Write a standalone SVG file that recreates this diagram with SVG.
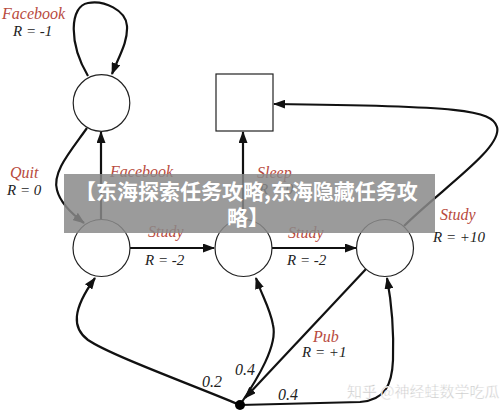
<svg xmlns="http://www.w3.org/2000/svg" width="500" height="412" viewBox="0 0 500 412">
<defs>
<style>
.st{fill:#fff;stroke:#222;stroke-width:1.2}
.c{fill:none;stroke:#111;stroke-width:2.2}
.lr{font-family:"Liberation Serif",serif;font-style:italic;font-size:16px;fill:#b84a3d}
.lb{font-family:"Liberation Serif",serif;font-style:italic;font-size:15px;fill:#222}
.p{font-family:"Liberation Serif",serif;font-style:italic;font-size:16px;fill:#222}
.bn{font-family:"Noto Sans CJK SC",sans-serif;font-weight:bold;font-size:21px;fill:#fff}
.wm{font-family:"Noto Sans CJK SC",sans-serif;font-size:15px;fill:#c8c8c8;stroke:#fff;stroke-width:0.4}
</style>
<marker id="ah" viewBox="0 0 12 9" refX="11" refY="4.5" markerWidth="12" markerHeight="9" markerUnits="userSpaceOnUse" orient="auto">
<path d="M0,0 L12,4.5 L0,9 z" fill="#111"/>
</marker>
</defs>
<g id="connectors">
<path class="c" d="M88,76 C68,42 70,6 88,3 C104,0 126,10 127,26 C128,42 119,56 112,74" marker-end="url(#ah)"/>
<path class="c" d="M101,219 L101,132" marker-end="url(#ah)"/>
<path class="c" d="M87,128 C70,152 52,172 57,190 C60,202 72,214 84,223" marker-end="url(#ah)"/>
<path class="c" d="M130,248 L214,248" marker-end="url(#ah)"/>
<path class="c" d="M272,248 L356,248" marker-end="url(#ah)"/>
<path class="c" d="M243,219 L243,132" marker-end="url(#ah)"/>
<path class="c" d="M404,226 C440,190 503,148 497,127 C492,110 460,106 274,104" marker-end="url(#ah)"/>
<path class="c" d="M366,269 L245,398" marker-end="url(#ah)"/>
<path class="c" d="M240,405 C190,384 110,355 88,340 C72,328 72,310 95,278" marker-end="url(#ah)"/>
<path class="c" d="M240,405 C258,378 278,345 273,325 C270,308 262,296 256,278" marker-end="url(#ah)"/>
<path class="c" d="M240,405 L360,402 C385,400 392,385 393,360 C394,330 392,305 387,278" marker-end="url(#ah)"/>
</g>
<g id="s_facebook"><circle class="st" cx="101.5" cy="103" r="28.3"/></g>
<g id="s_sleep"><rect class="st" x="216" y="74" width="57" height="57"/></g>
<g id="s_class1"><circle class="st" cx="101.5" cy="248" r="28.5"/></g>
<g id="s_class2"><circle class="st" cx="243.5" cy="248" r="28.5"/></g>
<g id="s_class3"><circle class="st" cx="385" cy="248" r="28.5"/></g>
<g id="s_chance"><circle cx="240" cy="405" r="5" fill="#000"/></g>
<g id="labels">
<text class="lr" x="2" y="19">Facebook</text>
<text class="lb" x="13" y="36">R = -1</text>
<text class="lr" x="10" y="178">Quit</text>
<text class="lb" x="7" y="195">R = 0</text>
<text class="lr" x="110" y="177">Facebook</text>
<text class="lr" x="257" y="178">Sleep</text>
<text class="lb" x="259" y="194">R = 0</text>
<text class="lr" x="148" y="237">Study</text>
<text class="lb" x="145" y="265">R = -2</text>
<text class="lr" x="288" y="238">Study</text>
<text class="lb" x="287" y="265">R = -2</text>
<text class="lr" x="440" y="220">Study</text>
<text class="lb" x="433" y="242">R = +10</text>
<text class="lr" x="313" y="342">Pub</text>
<text class="lb" x="302" y="357">R = +1</text>
<text class="p" x="235" y="375">0.4</text>
<text class="p" x="202" y="387">0.2</text>
<text class="p" x="278" y="400">0.4</text>
</g>
<text class="wm" x="347" y="397">知乎 @神经蛙数学吃瓜</text>
<g id="banner">
<rect x="64" y="174" width="371" height="59" fill="#8a8a8a" opacity="0.85"/>
<text class="bn" x="75" y="199">【东海探索任务攻略,东海隐藏任务攻</text>
<text class="bn" x="227" y="225">略】</text>
</g>
</svg>
